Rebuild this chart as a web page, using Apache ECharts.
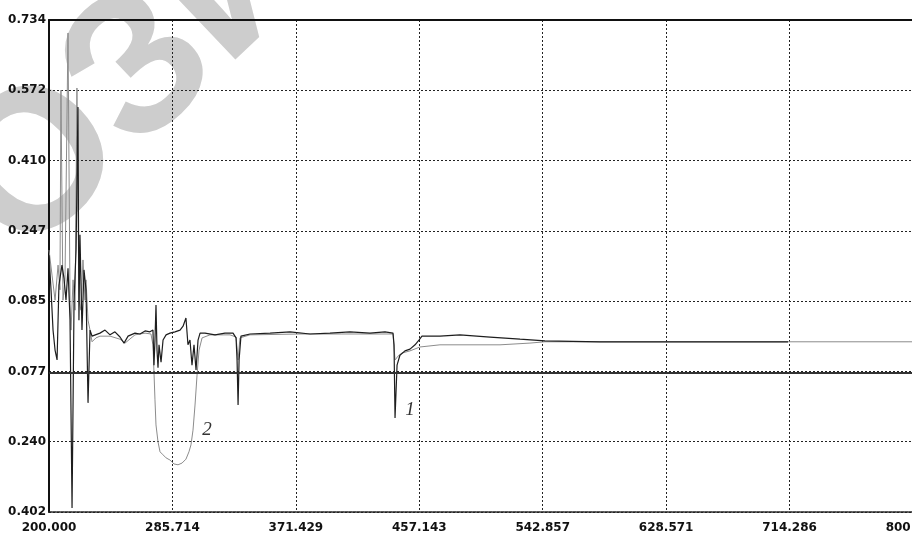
<!DOCTYPE html>
<html>
<head>
<meta charset="utf-8">
<script src="https://cdn.jsdelivr.net/npm/echarts@6/dist/echarts.min.js"></script>
<style>
  html, body { margin: 0; padding: 0; background: #fff; }
  #chart { width: 912px; height: 536px; }
</style>
</head>
<body>
<div id="chart"></div>
<script>
// Axis ranges and the tick captions printed along each axis
const xRange = [200, 800];
const yRange = [-0.402, 0.734];
const xTickLabels = ['200.000', '285.714', '371.429', '457.143', '542.857', '628.571', '714.286', '800.000'];
const yTickLabels = ['0.402', '0.240', '0.077', '0.085', '0.247', '0.410', '0.572', '0.734'];
const baseLevel = -0.077;

// Curve 1 (dark trace)
const curve1X = [200.0, 201.4, 202.8, 204.2, 205.6, 206.9, 209.0, 210.4, 211.8, 213.2, 214.6, 216.0, 217.4, 218.8, 220.1, 220.8, 221.5, 222.9, 224.3, 225.7, 227.1, 228.5, 229.9,
  235.4, 238.9, 242.4, 245.8, 249.3, 252.1, 254.9, 259.7, 263.2, 266.7, 270.1, 272.2, 272.9, 273.6, 274.3, 275.0, 275.7, 276.4, 277.8, 279.2, 281.3, 284.0, 287.5, 291.0,
  293.1, 295.1, 296.5, 297.9, 299.3, 300.7, 302.1, 303.5, 304.9, 308.3, 315.3, 322.2, 327.8, 329.9, 330.6, 331.3, 332.0, 333.3, 339.6, 353.5, 367.4, 381.3, 395.1, 409.0,
  422.9, 433.3, 438.9, 439.6, 440.3, 441.7, 443.7, 447.2, 450.7, 454.2, 456.9, 459.0, 471.5, 485.4, 506.3, 527.1, 544.4, 582.6, 652.1, 713.2];
const curve1Y = [0.191, 0.111, 0.018, -0.028, -0.051, 0.122, 0.168, 0.138, 0.087, 0.161, 0.041, -0.393, 0.087, 0.203, 0.533, 0.041, 0.238, 0.018, 0.157, 0.111, -0.150, 0.018, 0.004,
  0.011, 0.018, 0.007, 0.014, 0.002, -0.012, 0.004, 0.011, 0.009, 0.016, 0.014, 0.018, -0.063, -0.005, 0.076, -0.028, -0.069, -0.016, -0.056, -0.005, 0.007, 0.011, 0.014, 0.018,
  0.027, 0.046, -0.016, -0.005, -0.063, -0.016, -0.074, -0.005, 0.011, 0.011, 0.007, 0.011, 0.011, 0.000, -0.051, -0.155, -0.051, 0.004, 0.009, 0.011, 0.014, 0.009, 0.011, 0.014,
  0.011, 0.014, 0.011, -0.016, -0.185, -0.063, -0.040, -0.030, -0.026, -0.016, -0.005, 0.004, 0.004, 0.007, 0.002, -0.003, -0.007, -0.009, -0.009, -0.009];

// Curve 2 (grey trace)
const curve2X = [200.0, 202.1, 204.2, 206.3, 207.6, 208.3, 209.7, 211.1, 213.2, 214.6, 215.3, 216.7, 218.1, 219.4, 220.8, 222.2, 223.6, 225.0, 225.7, 227.1, 228.5, 229.9,
  232.6, 235.4, 242.4, 249.3, 252.8, 259.7, 266.7, 270.8, 272.2, 272.9, 273.6, 274.3, 275.7, 277.1, 279.2, 281.3, 284.0, 286.8, 289.6, 292.4, 295.1, 297.2, 298.6, 300.0,
  301.4, 302.8, 304.2, 306.3, 311.8, 325.7, 329.9, 331.3, 332.6, 339.6, 374.3, 416.0, 438.9, 440.3, 442.4, 445.1, 450.7, 457.6, 471.5, 513.2, 534.0, 544.4, 652.1, 800.0];
const curve2Y = [0.203, 0.145, 0.087, 0.168, 0.111, 0.572, 0.087, 0.134, 0.704, 0.087, 0.018, 0.134, 0.064, 0.577, 0.087, 0.064, 0.180, 0.087, 0.134, 0.041, 0.018, -0.009,
  0.000, 0.004, 0.004, -0.003, -0.012, 0.007, 0.011, 0.009, -0.016, -0.079, -0.143, -0.201, -0.240, -0.263, -0.270, -0.277, -0.282, -0.291, -0.293, -0.289, -0.280, -0.263, -0.247, -0.213,
  -0.155, -0.086, -0.028, 0.000, 0.007, 0.007, 0.002, -0.051, 0.000, 0.007, 0.009, 0.009, 0.009, -0.051, -0.042, -0.035, -0.030, -0.021, -0.016, -0.016, -0.012, -0.009, -0.009, -0.009];

// Curve captions placed in data coordinates
const captions = [
  { text: '2', x: 309.7, y: -0.213 },
  { text: '1', x: 450.7, y: -0.166 }
];

const zip = (xs, ys) => xs.map((x, i) => [x, ys[i]]);

const labelFont = {
  fontFamily: 'DejaVu Sans',
  fontWeight: 'bold',
  fontSize: 12,
  color: '#111'
};
const dotted = { color: '#222', width: 1, type: [2, 2] };

const chart = echarts.init(document.getElementById('chart'), null, { renderer: 'canvas' });

chart.setOption({
  animation: false,
  backgroundColor: '#fff',
  grid: { left: 49, right: -1, top: 20, bottom: 24, containLabel: false, outerBoundsMode: 'none' },
  graphic: {
    elements: [{
      type: 'text',
      z: -10,
      x: -16,
      y: 222,
      rotation: 43.5 * Math.PI / 180,
      silent: true,
      style: {
        text: 'ОЗИ',
        x: 0,
        y: 0,
        textAlign: 'left',
        textVerticalAlign: 'middle',
        font: 'bold 200px "Liberation Sans"',
        fill: '#cdcdcd'
      }
    }]
  },
  xAxis: [
    {
      // data axis, also draws the frame's top edge
      type: 'value', min: xRange[0], max: xRange[1], position: 'top',
      axisLine: { show: true, onZero: false, lineStyle: { color: '#111', width: 2 } },
      axisTick: { show: false }, axisLabel: { show: false }, splitLine: { show: false }
    },
    {
      // tick grid: seven equal steps across the range
      type: 'value', min: 0, max: xTickLabels.length - 1, interval: 1, position: 'bottom',
      axisLine: { show: true, onZero: false, lineStyle: { color: '#222', width: 1.5, type: [3, 1] } },
      axisTick: { show: false },
      axisLabel: Object.assign({ margin: 10, formatter: v => xTickLabels[Math.round(v)] }, labelFont),
      splitLine: { show: true, lineStyle: dotted }
    }
  ],
  yAxis: [
    {
      type: 'value', min: yRange[0], max: yRange[1], position: 'right',
      axisLine: { show: false, onZero: false }, axisTick: { show: false }, axisLabel: { show: false }, splitLine: { show: false }
    },
    {
      type: 'value', min: 0, max: yTickLabels.length - 1, interval: 1, position: 'left',
      axisLine: { show: true, onZero: false, lineStyle: { color: '#111', width: 2 } },
      axisTick: { show: false },
      axisLabel: Object.assign({ margin: 3, formatter: v => yTickLabels[Math.round(v)] }, labelFont),
      splitLine: { show: true, lineStyle: dotted }
    }
  ],
  series: [
    {
      name: '2', type: 'line', xAxisIndex: 0, yAxisIndex: 0,
      data: zip(curve2X, curve2Y), showSymbol: false, z: 3,
      lineStyle: { color: '#8c8c8c', width: 1 },
      markLine: {
        silent: true, symbol: 'none', label: { show: false },
        lineStyle: { color: '#333', width: 2, type: 'solid' },
        data: [{ yAxis: baseLevel }]
      }
    },
    {
      name: '1', type: 'line', xAxisIndex: 0, yAxisIndex: 0,
      data: zip(curve1X, curve1Y), showSymbol: false, z: 4,
      lineStyle: { color: '#1e1e1e', width: 1.2 },
      markPoint: {
        silent: true, symbol: 'circle', symbolSize: 0,
        label: {
          show: true, formatter: p => p.name, position: 'inside',
          fontFamily: 'Liberation Serif', fontStyle: 'italic', fontSize: 19, color: '#333'
        },
        data: captions.map(c => ({ name: c.text, coord: [c.x, c.y] }))
      }
    }
  ]
});
</script>
</body>
</html>
